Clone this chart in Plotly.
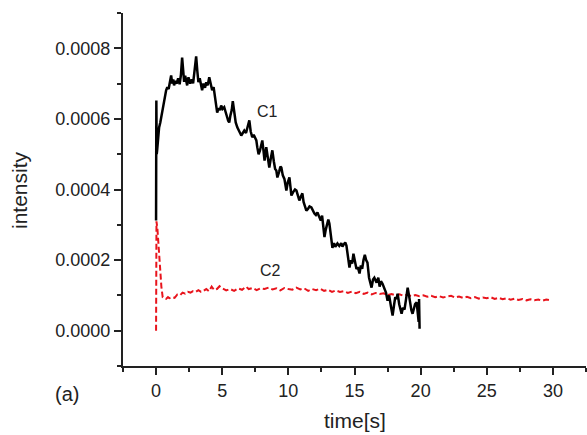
import plotly.graph_objects as go

# C1 (black solid) time [s] and intensity
c1_t = [0.00, 0.02, 0.05, 0.08, 0.15, 0.23, 0.32, 0.45, 0.55, 0.65, 0.76, 0.85, 0.95, 1.05, 1.14,
        1.22, 1.30, 1.36, 1.45, 1.55, 1.67, 1.78, 1.88, 1.97, 2.05, 2.12, 2.20, 2.35, 2.45, 2.58,
        2.70, 2.80, 2.92, 3.03, 3.12, 3.20, 3.30, 3.40, 3.48, 3.58, 3.70, 3.79, 3.90, 4.02, 4.12,
        4.24, 4.35, 4.45, 4.55, 4.62, 4.72, 4.82, 4.92, 5.02, 5.15, 5.26, 5.38, 5.45, 5.53, 5.62,
        5.72, 5.80, 5.91, 6.02, 6.14, 6.25, 6.35, 6.44, 6.55, 6.67, 6.80, 6.90, 7.05, 7.15, 7.27,
        7.38, 7.48, 7.58, 7.65, 7.75, 7.85, 7.95, 8.03, 8.12, 8.20, 8.33, 8.45, 8.56, 8.68, 8.79,
        8.90, 9.00, 9.09, 9.17, 9.30, 9.40, 9.47, 9.58, 9.70, 9.85, 9.95, 10.08, 10.15, 10.23, 10.35,
        10.50, 10.61, 10.72, 10.83, 10.95, 11.06, 11.15, 11.25, 11.36, 11.48, 11.60, 11.74, 11.85, 11.97, 12.08,
        12.20, 12.35, 12.45, 12.55, 12.63, 12.73, 12.82, 12.92, 13.02, 13.10, 13.20, 13.33, 13.45, 13.55, 13.71,
        13.85, 14.00, 14.09, 14.20, 14.30, 14.39, 14.50, 14.62, 14.72, 14.82, 14.92, 15.02, 15.15, 15.25, 15.38,
        15.48, 15.58, 15.68, 15.78, 15.88, 15.98, 16.10, 16.20, 16.29, 16.40, 16.50, 16.67, 16.80, 16.90, 17.00,
        17.12, 17.25, 17.38, 17.50, 17.62, 17.75, 17.88, 17.98, 18.08, 18.18, 18.26, 18.38, 18.46, 18.56, 18.66,
        18.78, 18.90, 19.02, 19.12, 19.22, 19.30, 19.39, 19.48, 19.58, 19.70, 19.78, 19.85, 19.88, 19.92]
c1_v = [0.000312, 0.000652, 0.000500, 0.000511, 0.000545, 0.000576, 0.000590, 0.000620, 0.000640, 0.000665,
        0.000681, 0.000690, 0.000685, 0.000705, 0.000723, 0.000700, 0.000712, 0.000695, 0.000708, 0.000700,
        0.000715, 0.000698, 0.000725, 0.000774, 0.000729, 0.000705, 0.000722, 0.000695, 0.000718, 0.000700,
        0.000712, 0.000701, 0.000740, 0.000777, 0.000735, 0.000704, 0.000715, 0.000690, 0.000681, 0.000700,
        0.000688, 0.000704, 0.000695, 0.000718, 0.000700, 0.000681, 0.000690, 0.000665, 0.000630, 0.000618,
        0.000630, 0.000625, 0.000638, 0.000628, 0.000633, 0.000615, 0.000604, 0.000595, 0.000590, 0.000610,
        0.000625, 0.000650, 0.000610, 0.000590, 0.000576, 0.000565, 0.000560, 0.000553, 0.000560, 0.000567,
        0.000560, 0.000575, 0.000596, 0.000565, 0.000548, 0.000555, 0.000545, 0.000539, 0.000520, 0.000500,
        0.000510, 0.000530, 0.000539, 0.000510, 0.000482, 0.000520, 0.000495, 0.000462, 0.000490, 0.000511,
        0.000480, 0.000458, 0.000454, 0.000434, 0.000450, 0.000465, 0.000462, 0.000440, 0.000430, 0.000397,
        0.000420, 0.000434, 0.000410, 0.000383, 0.000392, 0.000400, 0.000397, 0.000380, 0.000369, 0.000380,
        0.000389, 0.000365, 0.000350, 0.000340, 0.000345, 0.000352, 0.000349, 0.000338, 0.000332, 0.000328,
        0.000335, 0.000321, 0.000312, 0.000326, 0.000300, 0.000265, 0.000285, 0.000300, 0.000315, 0.000304,
        0.000265, 0.000235, 0.000248, 0.000238, 0.000247, 0.000240, 0.000248, 0.000238, 0.000245, 0.000250,
        0.000241, 0.000205, 0.000179, 0.000200, 0.000190, 0.000218, 0.000200, 0.000175, 0.000180, 0.000162,
        0.000185, 0.000175, 0.000200, 0.000215, 0.000200, 0.000193, 0.000150, 0.000135, 0.000122, 0.000145,
        0.000150, 0.000136, 0.000150, 0.000125, 0.000140, 0.000133, 0.000120, 0.000108, 0.000085, 0.000100,
        0.000070, 0.000043, 0.000070, 0.000095, 0.000090, 0.000105, 0.000075, 0.000060, 0.000048, 0.000065,
        0.000060, 0.000090, 0.000122, 0.000100, 0.000070, 0.000058, 0.000048, 0.000065, 0.000075, 0.000080,
        0.000040, 0.000025, 0.000090, 0.0000057]

# C2 (red dashed)
c2_t = [0.00, 0.03, 0.10, 0.20, 0.30, 0.40, 0.50, 0.60, 0.75, 0.90, 1.00, 1.20, 1.40, 1.60, 1.80,
        2.00, 2.20, 2.40, 2.60, 2.80, 3.00, 3.20, 3.40, 3.60, 3.80, 4.00, 4.20, 4.40, 4.60, 4.80,
        5.0, 5.3, 5.6, 5.9, 6.2, 6.5, 6.8, 7.0, 7.3, 7.6, 7.9, 8.2, 8.5, 8.8, 9.1,
        9.4, 9.7, 10.0, 10.3, 10.6, 10.9, 11.2, 11.5, 11.8, 12.1, 12.4, 12.7, 13.0, 13.3, 13.6,
        13.9, 14.2, 14.5, 14.8, 15.1, 15.4, 15.7, 16.0, 16.3, 16.6, 16.9, 17.2, 17.5, 17.8, 18.1,
        18.4, 18.7, 19.0, 19.3, 19.6, 19.9, 20.2, 20.5, 20.8, 21.1, 21.4, 21.7, 22.0, 22.3, 22.6,
        22.9, 23.2, 23.5, 23.8, 24.1, 24.4, 24.7, 25.0, 25.3, 25.6, 25.9, 26.2, 26.5, 26.8, 27.1,
        27.4, 27.7, 28.0, 28.3, 28.6, 28.9, 29.2, 29.5, 29.8]
c2_v = [0.0, 0.000310, 0.000290, 0.000245, 0.000180, 0.000125, 0.000095, 0.000092, 0.000090, 0.000095,
        0.000092, 0.000095, 0.000093, 0.000102, 0.000100, 0.000108, 0.000105, 0.000110, 0.000108, 0.000112,
        0.000110, 0.000115, 0.000110, 0.000113, 0.000118, 0.000112, 0.000125, 0.000115, 0.000118, 0.000126,
        0.000120, 0.000114, 0.000118, 0.000113, 0.000120, 0.000116, 0.000125, 0.000118, 0.000121, 0.000115,
        0.000120, 0.000118, 0.000122, 0.000117, 0.000120, 0.000114, 0.000121, 0.000118, 0.000116, 0.000122,
        0.000117, 0.000120, 0.000113, 0.000118, 0.000115, 0.000119, 0.000113, 0.000116, 0.000110, 0.000114,
        0.000110, 0.000112, 0.000107, 0.000111, 0.000106, 0.000110, 0.000104, 0.000108, 0.000103, 0.000107,
        0.000104, 0.000106, 0.000101, 0.000104, 0.000100, 0.000103, 0.000099, 0.000102, 0.000098, 0.000101,
        0.000098, 0.000100, 0.000096, 0.000099, 0.000095, 0.000098, 0.000094, 0.000097, 0.000099, 0.000094,
        0.000097, 0.000093, 0.000096, 0.000092, 0.000095, 0.000091, 0.000094, 0.000092, 0.000095, 0.000090,
        0.000093, 0.000089, 0.000092, 0.000088, 0.000091, 0.000087, 0.000090, 0.000086, 0.000089, 0.000086,
        0.000088, 0.000085, 0.000088, 0.000086]

FONT = "Liberation Sans, Arial, Helvetica, sans-serif"

fig = go.Figure()
fig.add_trace(go.Scatter(x=c2_t, y=c2_v, mode="lines",
                         line=dict(color="#e8141c", width=2, dash="6px,3px"),
                         showlegend=False))
fig.add_trace(go.Scatter(x=c1_t, y=c1_v, mode="lines",
                         line=dict(color="black", width=2.5),
                         showlegend=False))

fig.update_layout(
    width=587, height=435,
    margin=dict(l=123, r=1, t=13, b=69),
    paper_bgcolor="white", plot_bgcolor="white",
    font=dict(family=FONT, size=18, color="#222"),
    xaxis=dict(range=[-2.5, 32.5], showline=True, linecolor="#222", linewidth=2,
               ticks="outside", ticklen=7, tickwidth=1.5, tickcolor="#222",
               tick0=0, dtick=5, showgrid=False, zeroline=False,
               minor=dict(ticks="outside", ticklen=4, tickwidth=1.5, tickcolor="#222", dtick=2.5, tick0=0, showgrid=False),
               tickfont=dict(size=18)),
    yaxis=dict(range=[-0.0001, 0.0009], showline=True, linecolor="#222", linewidth=2,
               ticks="outside", ticklen=7, tickwidth=1.5, tickcolor="#222",
               tick0=0, dtick=0.0002, tickformat=".4f", showgrid=False, zeroline=False,
               minor=dict(ticks="outside", ticklen=4, tickwidth=1.5, tickcolor="#222", dtick=0.0001, tick0=0, showgrid=False),
               tickfont=dict(size=18)),
)

fig.add_annotation(x=19, y=190, text="intensity", showarrow=False, textangle=-90, font=dict(size=21))
fig.add_annotation(text="time[s]", x=355, y=420, showarrow=False, font=dict(size=21))
fig.add_annotation(text="(a)", x=67, y=394, showarrow=False, font=dict(size=20))
fig.add_annotation(text="C1", x=267, y=111, showarrow=False, font=dict(size=16))
fig.add_annotation(text="C2", x=270, y=270, showarrow=False, font=dict(size=16))

# convert pixel positions of annotations to paper coords
W, H = 587, 435
l, r, t, b = 123, 1, 13, 69
pw, ph = W - l - r, H - t - b
for ann in fig.layout.annotations:
    px, py = ann.x, ann.y
    ann.xref = "paper"; ann.yref = "paper"
    ann.x = (px - l) / pw
    ann.y = (H - b - py) / ph
    ann.xanchor = "center"; ann.yanchor = "middle"

fig.write_html("out.html", config={"displayModeBar": False},
               post_script="document.body.style.margin='0';document.body.style.overflow='hidden';")
